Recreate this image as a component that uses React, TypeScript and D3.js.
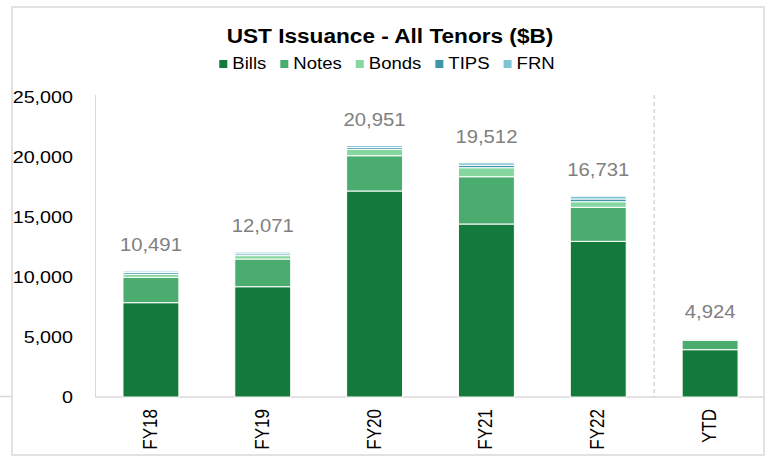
import React, { useEffect, useRef } from 'react';
import * as d3 from 'd3';

// values in $B
const categories = ['FY18', 'FY19', 'FY20', 'FY21', 'FY22', 'YTD'];
const seriesNames = ['Bills', 'Notes', 'Bonds', 'TIPS', 'FRN'];
const bills = [7860, 9190, 17167, 14417, 12972, 3942];
const notes = [2115, 2310, 2940, 3940, 2836, 783];
const bonds = [240, 280, 530, 750, 467, 100];
const tips = [150, 150, 150, 200, 225, 50];
const frn = [126, 141, 164, 205, 231, 49];
const totals = [10491, 12071, 20951, 19512, 16731, 4924];
const yTicks = [0, 5000, 10000, 15000, 20000, 25000];
const colors = ['#137a3c', '#4aad6f', '#86d6a0', '#3e97a8', '#7dc5d5'];

// the source picture is a bit wide, text looks stretched sideways
const SX = 1.16;

export default function App() {
    const ref = useRef(null);

    useEffect(() => {
        const W = 769, H = 456;
        const font = 'Liberation Sans, Arial, sans-serif';
        const svg = d3.select(ref.current);
        svg.selectAll('*').remove();
        svg.attr('width', W).attr('height', H).style('font-family', font);

        svg.append('rect').attr('width', W).attr('height', H).attr('fill', '#fff');

        // neighbouring chart edge + frame
        svg.append('line').attr('x1', 0).attr('x2', 12).attr('y1', 396.5).attr('y2', 396.5)
            .attr('stroke', '#d9d9d9').attr('stroke-width', 1.5);
        svg.append('rect').attr('x', 12).attr('y', 7).attr('width', 752).attr('height', 448)
            .attr('fill', 'none').attr('stroke', '#d9d9d9').attr('stroke-width', 1.5);

        const x = d3.scaleBand().domain(categories).range([95, 766]).paddingInner(0.5).paddingOuter(0.25);
        const y = d3.scaleLinear().domain([0, 25000]).range([397, 97]);

        // title
        svg.append('text').attr('transform', `translate(390,43) scale(${SX},1)`).attr('text-anchor', 'middle')
            .style('font-size', '19.5px').style('font-weight', 'bold').attr('fill', '#000')
            .text('UST Issuance - All Tenors ($B)');

        // legend
        const lg = svg.append('g');
        let lx = 0;
        seriesNames.forEach((name, i) => {
            const g = lg.append('g').attr('transform', `translate(${lx},0)`);
            g.append('rect').attr('x', 0).attr('y', -9).attr('width', 8).attr('height', 8).attr('fill', colors[i]);
            const t = g.append('text').attr('transform', `translate(13,0) scale(${SX},1)`)
                .style('font-size', '16px').attr('fill', '#000').text(name);
            const w = (t.node() as SVGTextElement).getComputedTextLength() * SX;
            lx += 13 + w + 14;
        });
        const legendW = lx - 14;
        lg.attr('transform', `translate(${387 - legendW / 2},69)`);

        // axes lines
        svg.append('line').attr('x1', 95.5).attr('x2', 95.5).attr('y1', 95).attr('y2', 397)
            .attr('stroke', '#d9d9d9').attr('stroke-width', 1);
        svg.append('line').attr('x1', 95).attr('x2', 764).attr('y1', 397).attr('y2', 397)
            .attr('stroke', '#d9d9d9').attr('stroke-width', 1.5);

        // y tick labels
        svg.append('g').selectAll('text').data(yTicks).join('text')
            .attr('transform', d => `translate(73,${y(d) + 6}) scale(${SX},1)`).attr('text-anchor', 'end')
            .style('font-size', '17px').attr('fill', '#000')
            .text(d => d3.format(',')(d));

        // dashed separator before YTD
        const sepX = (x('YTD') as number) - x.step() * x.paddingInner() / 2;
        svg.append('line').attr('x1', sepX).attr('x2', sepX).attr('y1', 95).attr('y2', 397)
            .attr('stroke', '#bfbfbf').attr('stroke-dasharray', '4,3').attr('stroke-width', 1);

        // stacked bars
        const table = categories.map((c, i) => ({
            cat: c, Bills: bills[i], Notes: notes[i], Bonds: bonds[i], TIPS: tips[i], FRN: frn[i]
        }));
        const stack = d3.stack().keys(seriesNames)(table as any);
        svg.append('g').selectAll('g').data(stack).join('g')
            .attr('fill', (d, i) => colors[i])
            .selectAll('rect').data(d => d).join('rect')
            .attr('x', (d: any) => x(d.data.cat) as number)
            .attr('width', x.bandwidth())
            .attr('y', d => y(d[1]))
            .attr('height', d => Math.max(0, y(d[0]) - y(d[1])))
            .attr('stroke', '#fff').attr('stroke-width', 1);

        // total labels
        svg.append('g').selectAll('text').data(categories).join('text')
            .attr('transform', (d, i) => `translate(${(x(d) as number) + x.bandwidth() / 2},${y(totals[i]) - 20}) scale(${SX},1)`)
            .attr('text-anchor', 'middle').style('font-size', '17.5px').attr('fill', '#808080')
            .text((d, i) => d3.format(',')(totals[i]));

        // category labels, rotated
        svg.append('g').selectAll('text').data(categories).join('text')
            .attr('transform', d => `translate(${(x(d) as number) + x.bandwidth() / 2 + 6},409) rotate(-90) scale(1,${SX})`)
            .attr('text-anchor', 'end').style('font-size', '17px').attr('fill', '#000')
            .text(d => d);
    }, []);

    return (
        <div style={{ position: 'absolute', left: 0, top: 0 }}>
            <svg ref={ref} style={{ display: 'block' }}></svg>
        </div>
    );
}
